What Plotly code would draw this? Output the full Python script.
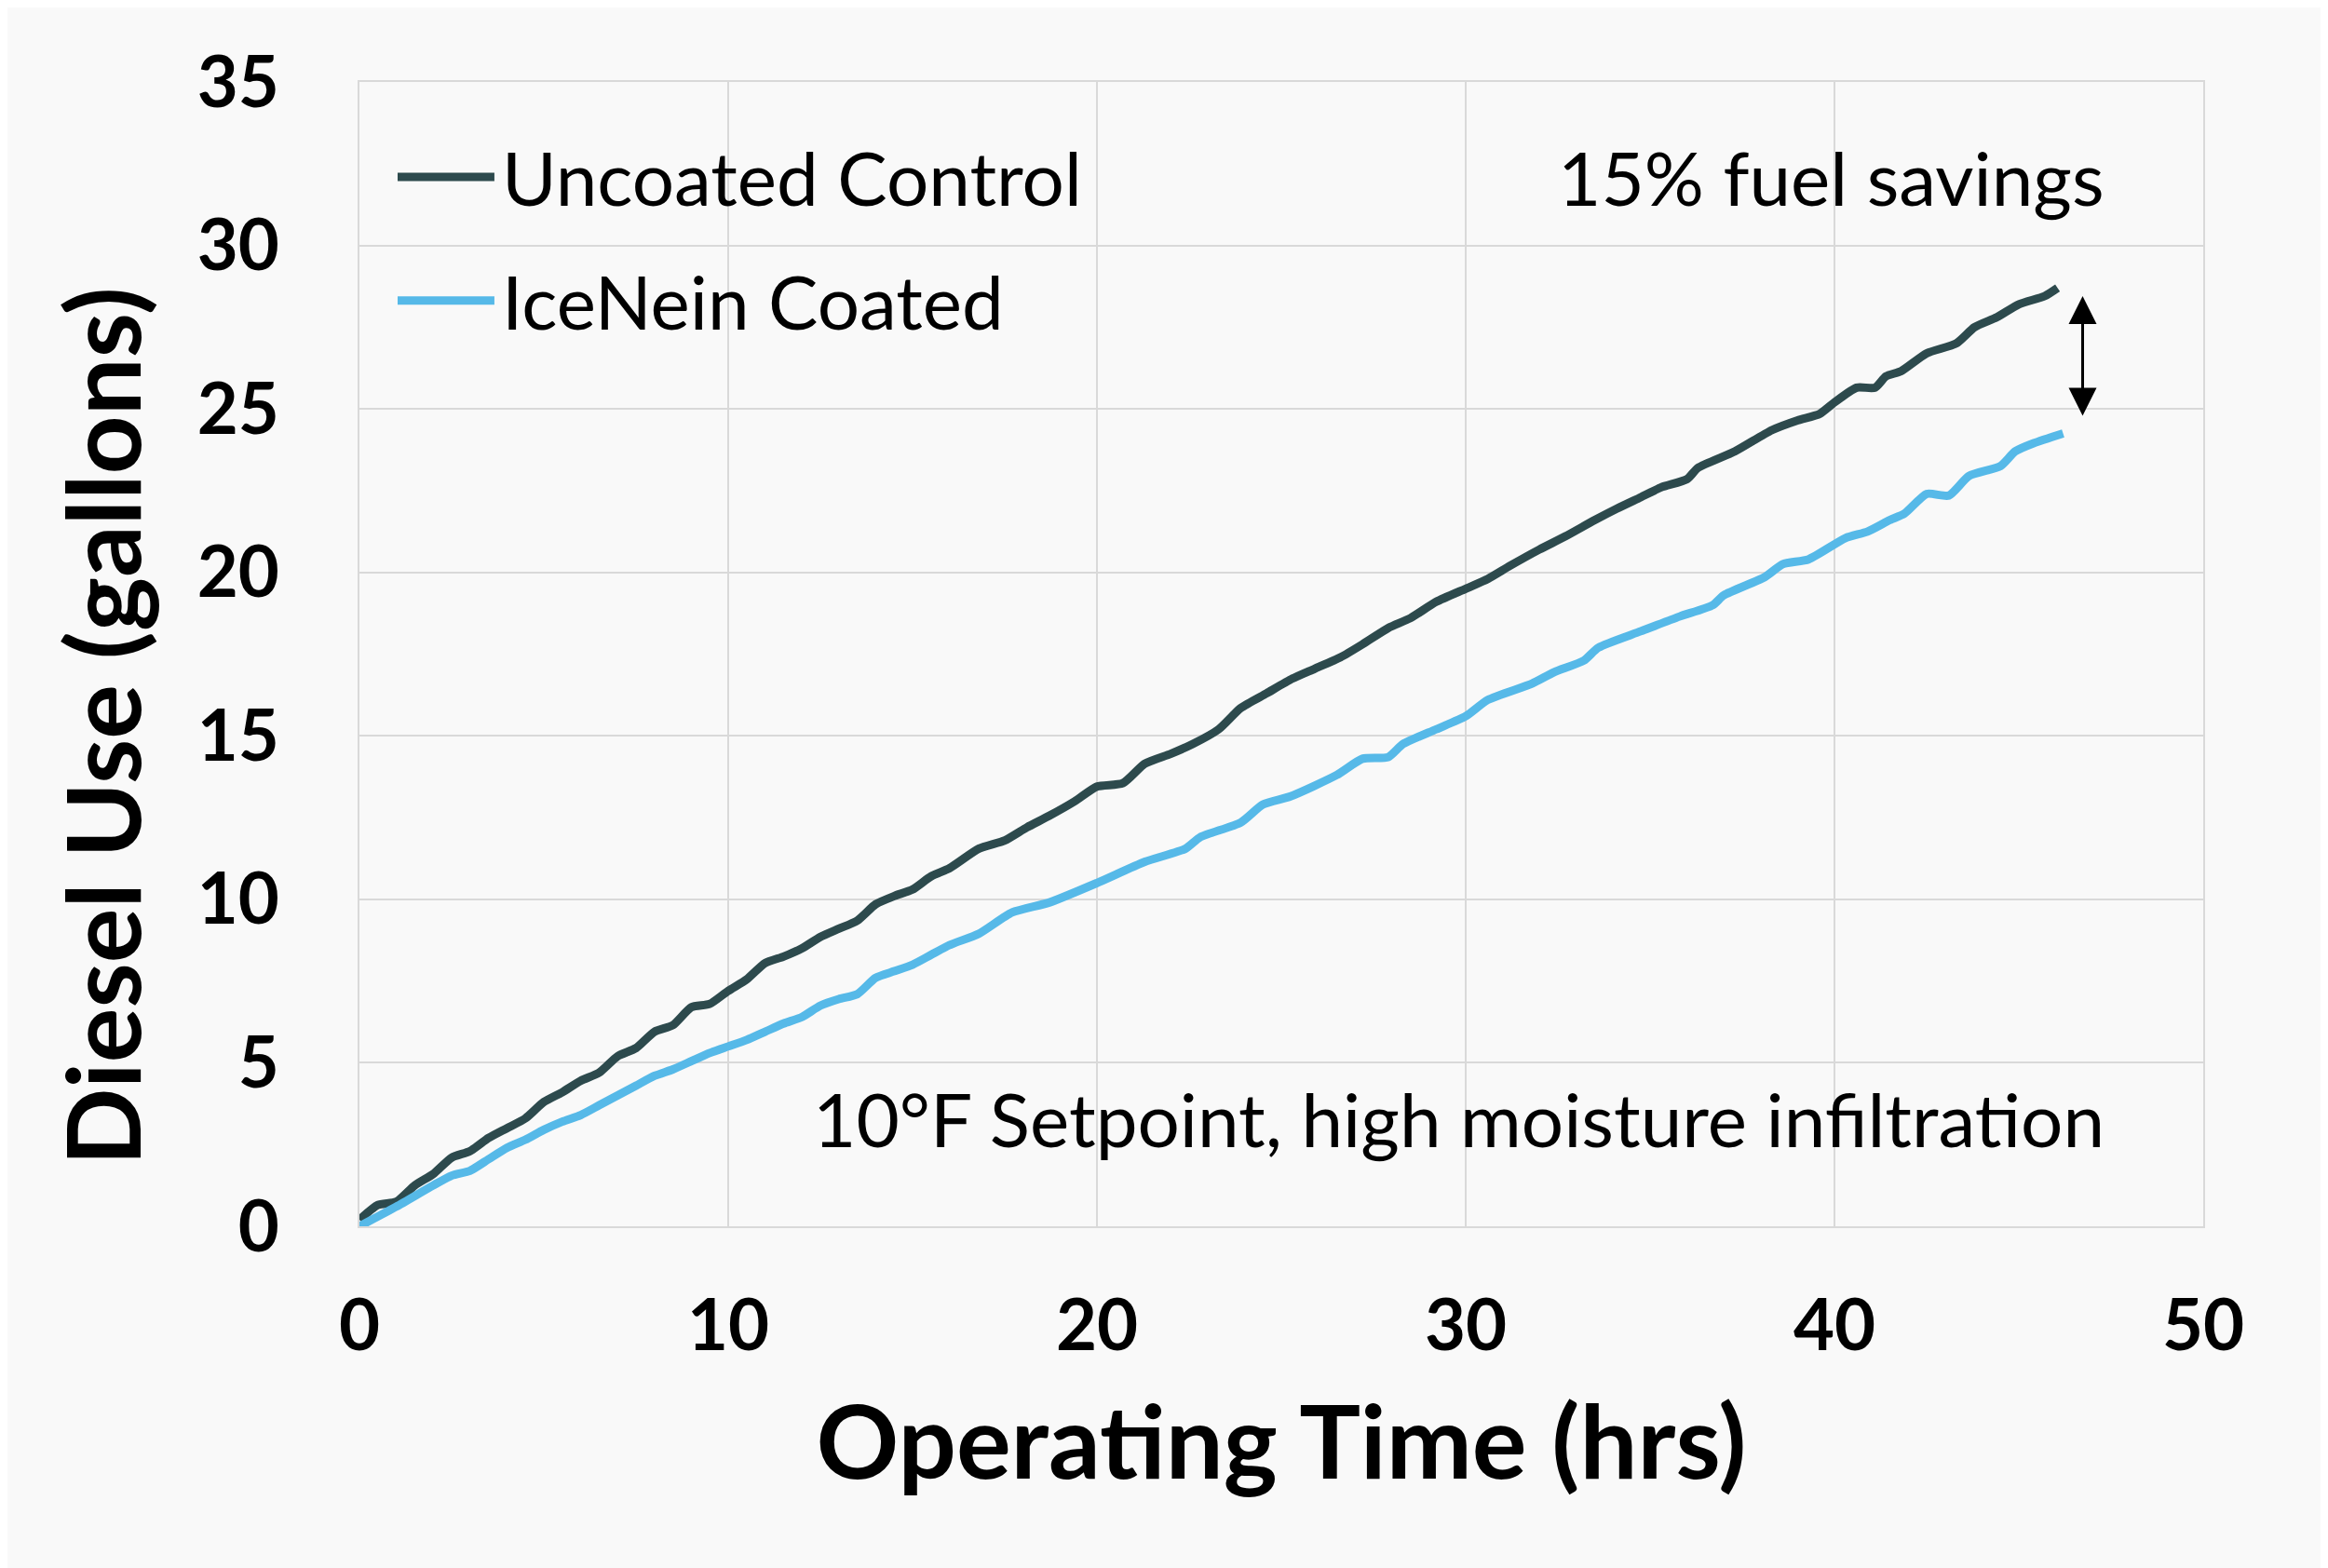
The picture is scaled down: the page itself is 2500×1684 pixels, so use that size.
import plotly.graph_objects as go

# ---- data ----
hours_uncoated = [0, 0.5, 1, 1.5, 2, 2.5, 3, 3.5, 4, 4.5, 5, 5.5, 6, 6.5, 7, 7.5, 8, 8.5, 9, 9.5,
                  10, 10.5, 11, 11.5, 12, 12.5, 13, 13.5, 14, 14.5, 15, 15.5, 16, 16.8, 17.5, 18.1,
                  18.7, 19.4, 20, 20.7, 21.3, 22.0, 22.6, 23.3, 23.9, 24.6, 25.3, 25.9, 26.6, 27.2,
                  27.9, 28.5, 29.2, 30.0, 30.6, 31.2, 32.0, 32.7, 33.5, 34.1, 34.75, 35.3, 36.0,
                  36.3, 37.3, 38.3, 39.0, 39.6, 40.0, 40.6, 41.1, 41.4, 41.8, 42.5, 43.3, 43.8,
                  44.4, 45.0, 45.7, 46.05]
diesel_uncoated = [0.2, 0.65, 0.75, 1.25, 1.6, 2.1, 2.3, 2.7, 3.0, 3.3, 3.8, 4.1, 4.45, 4.7, 5.2,
                   5.45, 5.95, 6.15, 6.7, 6.8, 7.2, 7.55, 8.05, 8.25, 8.5, 8.85, 9.1, 9.35, 9.85,
                   10.1, 10.3, 10.7, 10.95, 11.55, 11.8, 12.2, 12.55, 13.0, 13.45, 13.55, 14.15,
                   14.45, 14.75, 15.2, 15.85, 16.3, 16.75, 17.05, 17.4, 17.8, 18.3, 18.6, 19.1,
                   19.5, 19.8, 20.2, 20.7, 21.1, 21.6, 21.95, 22.3, 22.6, 22.85, 23.2, 23.7, 24.35,
                   24.65, 24.85, 25.2, 25.65, 25.65, 26.0, 26.15, 26.7, 27.0, 27.5, 27.8, 28.2,
                   28.45, 28.7]

hours_coated = [0, 1, 2, 2.5, 3, 3.5, 4, 4.5, 5, 5.5, 6, 6.5, 7, 7.5, 8, 8.5, 9, 9.5, 10, 10.5,
                11, 11.5, 12, 12.5, 13, 13.5, 14, 14.5, 15, 15.5, 16, 16.8, 17.7, 18.7, 20, 21.3,
                22.4, 22.8, 23.9, 24.5, 25.25, 26.5, 27.2, 27.9, 28.3, 29.2, 30.0, 30.6, 31.8,
                32.4, 33.2, 33.6, 34.75, 35.8, 36.7, 37.0, 38.1, 38.6, 39.3, 40.3, 40.9, 41.5,
                41.9, 42.5, 43.1, 43.65, 44.5, 44.9, 45.4, 46.2]
diesel_coated = [0.0, 0.6, 1.25, 1.55, 1.7, 2.05, 2.4, 2.65, 2.95, 3.2, 3.4, 3.7, 4.0, 4.3, 4.6,
                 4.8, 5.05, 5.3, 5.5, 5.7, 5.95, 6.2, 6.4, 6.75, 6.95, 7.1, 7.6, 7.8, 8.0, 8.3,
                 8.6, 8.95, 9.6, 9.9, 10.5, 11.15, 11.55, 11.9, 12.35, 12.9, 13.15, 13.8, 14.3,
                 14.35, 14.75, 15.2, 15.6, 16.1, 16.6, 16.95, 17.3, 17.7, 18.2, 18.65, 19.0, 19.3,
                 19.85, 20.25, 20.4, 21.05, 21.25, 21.6, 21.8, 22.4, 22.35, 22.95, 23.25, 23.7,
                 23.95, 24.25]

series_names = ["Uncoated Control", "IceNein Coated"]
x_ticks = [0, 10, 20, 30, 40, 50]
y_ticks = [0, 5, 10, 15, 20, 25, 30, 35]
arrow_x = 46.73
arrow_top = 28.45
arrow_bottom = 24.75
note_savings = "15% fuel savings"
note_condition = "10°F Setpoint, high moisture infiltration"
x_title = "Operating Time (hrs)"
y_title = "Diesel Use (gallons)"

# ---- styling ----
BG = "#f9f9f9"
GRID = "#d9d9d9"
C_UNC = "#2d4a4d"
C_COAT = "#56b9e8"
FONT = "Lato"

fig = go.Figure()
fig.add_trace(go.Scatter(x=hours_uncoated, y=diesel_uncoated, mode="lines",
                         name=series_names[0], line=dict(color=C_UNC, width=9, shape="spline", smoothing=0.6),
                         showlegend=False))
fig.add_trace(go.Scatter(x=hours_coated, y=diesel_coated, mode="lines",
                         name=series_names[1], line=dict(color=C_COAT, width=9, shape="spline", smoothing=0.6),
                         showlegend=False))

# manual legend (line sample + text) in paper coordinates
legend_rows = [(0.917, C_UNC, series_names[0]), (0.809, C_COAT, series_names[1])]
for yy, col, name in legend_rows:
    fig.add_shape(type="line", xref="paper", yref="paper", x0=0.0207, x1=0.0732, y0=yy, y1=yy,
                  line=dict(color=col, width=9))
    fig.add_annotation(xref="paper", yref="paper", x=0.0765, y=yy, text=name, showarrow=False,
                       xanchor="left", yanchor="middle", font=dict(family=FONT, size=80, color="black"))

# text notes
fig.add_annotation(xref="paper", yref="paper", x=0.9475, y=0.917, text=note_savings, showarrow=False,
                   xanchor="right", yanchor="middle", font=dict(family=FONT, size=80, color="black"))
fig.add_annotation(xref="paper", yref="paper", x=0.9475, y=0.094, text=note_condition, showarrow=False,
                   xanchor="right", yanchor="middle", font=dict(family=FONT, size=80, color="black"))

# y-axis title (placed as rotated text to match the reference's vertical offset)
fig.add_annotation(xref="paper", yref="paper", x=-0.1404, y=0.437, text=y_title, showarrow=False,
                   textangle=-90, xanchor="center", yanchor="middle",
                   font=dict(family=FONT, size=110, color="black", weight="bold"))

# double-headed arrow
fig.add_annotation(x=arrow_x, y=arrow_top, ax=arrow_x, ay=arrow_bottom, xref="x", yref="y",
                   axref="x", ayref="y", text="", showarrow=True, arrowhead=2, startarrowhead=2,
                   arrowside="end+start", arrowsize=2, startarrowsize=2, arrowwidth=3, arrowcolor="black")

fig.update_layout(
    width=2500, height=1684,
    paper_bgcolor=BG, plot_bgcolor=BG,
    margin=dict(l=378, r=142, t=80, b=375),
    font=dict(family=FONT, color="black"),
    xaxis=dict(range=[0, 50], tickvals=x_ticks, showgrid=True, gridcolor=GRID, gridwidth=2,
               zeroline=False, showline=True, linecolor=GRID, linewidth=2, mirror=True,
               ticks="outside", ticklen=40, tickcolor="rgba(0,0,0,0)",
               tickfont=dict(family=FONT, size=76, color="black", weight="bold"),
               title=dict(text=x_title, standoff=46,
                          font=dict(family=FONT, size=110, color="black", weight="bold"))),
    yaxis=dict(range=[0, 35], tickvals=y_ticks, showgrid=True, gridcolor=GRID, gridwidth=2,
               zeroline=False, showline=True, linecolor=GRID, linewidth=2, mirror=True,
               ticks="outside", ticklen=69, tickcolor="rgba(0,0,0,0)",
               tickfont=dict(family=FONT, size=76, color="black", weight="bold")),
)

fig.write_html("out.html")
